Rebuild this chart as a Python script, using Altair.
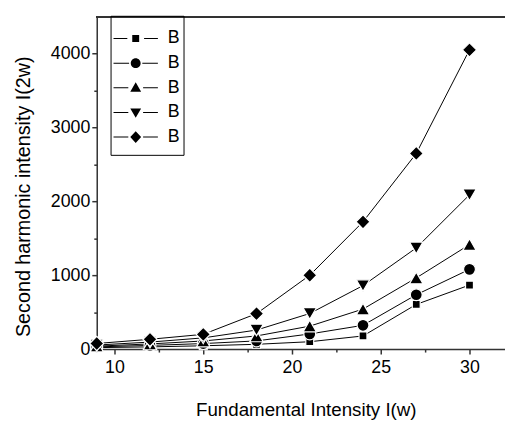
import altair as alt
import pandas as pd

# ---- data ----
x_vals = [9, 12, 15, 18, 21, 24, 27, 30]
s_square = [20, 30, 45, 65, 100, 178, 605, 867]
s_circle = [30, 50, 75, 111, 205, 322, 736, 1080]
s_triup = [40, 70, 110, 178, 311, 542, 964, 1415]
s_tridown = [55, 95, 152, 258, 482, 860, 1370, 2089]
s_diamond = [76, 133, 200, 480, 1000, 1724, 2649, 4053]
series_ids = ["S1", "S2", "S3", "S4", "S5"]
legend_label = "B"
x_ticks = [10, 15, 20, 25, 30]
x_minor = [12.5, 17.5, 22.5, 27.5]
y_ticks = [0, 1000, 2000, 3000, 4000]
y_minor = [500, 1500, 2500, 3500]

values = [s_square, s_circle, s_triup, s_tridown, s_diamond]
rows = []
for sid, vals in zip(series_ids, values):
    for xv, yv in zip(x_vals, vals):
        rows.append({"x": xv, "y": yv, "series": sid})
df = pd.DataFrame(rows)

W, H = 414, 337
FONT = "Liberation Sans"
AX = "#333333"

xscale = alt.Scale(domain=[9, 32], nice=False, zero=False)
yscale = alt.Scale(domain=[0, 4500], nice=False)

base = alt.Chart(df)

main_x = alt.Axis(values=x_ticks, orient="bottom", title="Fundamental Intensity I(w)",
                  grid=False, tickSize=5, tickWidth=1.5, tickColor=AX, domainColor=AX,
                  domainWidth=1.5, labelFont=FONT, labelFontSize=18, labelColor="black",
                  labelPadding=5, titleFont=FONT, titleFontSize=19, titleFontWeight="normal",
                  titleColor="black", titleX=212, titleY=67, titleBaseline="alphabetic",
                  titleAlign="center", labelFlush=False, format="d")
main_y = alt.Axis(values=y_ticks, orient="left", title="Second harmonic intensity  I(2w)",
                  grid=False, tickSize=5, tickWidth=1.5, tickColor=AX, domainColor=AX,
                  domainWidth=1.5, labelFont=FONT, labelFontSize=18, labelColor="black",
                  labelPadding=2, titleFont=FONT, titleFontSize=20, titleFontWeight="normal",
                  titleColor="black", titleX=-68, titleY=182, titleBaseline="alphabetic",
                  titleAlign="center", titleAngle=270, labelFlush=False, format="d")
minor_x = alt.Axis(values=x_minor, orient="bottom", title=None, labels=False, grid=False,
                   tickSize=3, tickWidth=1.5, tickColor=AX, domain=False)
minor_y = alt.Axis(values=y_minor, orient="left", title=None, labels=False, grid=False,
                   tickSize=3, tickWidth=1.5, tickColor=AX, domain=False)

lines = base.mark_line(color="black", strokeWidth=1).encode(
    x=alt.X("x:Q", scale=xscale, axis=main_x),
    y=alt.Y("y:Q", scale=yscale, axis=main_y),
    detail="series:N",
)

minor = base.mark_point(opacity=0).encode(
    x=alt.X("x:Q", scale=xscale, axis=minor_x),
    y=alt.Y("y:Q", scale=yscale, axis=minor_y),
)

shapes = ["square", "circle", "triangle-up", "triangle-down", "diamond"]
sizes = [64, 145, 185, 185, 205]
point_layers = []
for sid, shp, sz in zip(series_ids, shapes, sizes):
    point_layers.append(
        base.transform_filter(alt.datum.series == sid)
        .mark_point(shape=shp, size=sz, filled=True, fill="black", stroke="white",
                    strokeWidth=1.2, opacity=1)
        .encode(x=alt.X("x:Q", scale=xscale, axis=None),
                y=alt.Y("y:Q", scale=yscale, axis=None))
    )


# legend glyphs: "—marker—" drawn as one filled path (units of 10 px, box -1..1)
def glyph(marker_pts, gap, circle_r=None, bottom_ext=None):
    u = 10.0
    c = 12.5
    left0, left1 = -10.0, c - gap
    right0, right1 = c + gap, 35.0
    t = 0.5
    d = (f"M{left0/u:.3f},{-t/u:.3f}L{left1/u:.3f},{-t/u:.3f}L{left1/u:.3f},{t/u:.3f}L{left0/u:.3f},{t/u:.3f}Z"
         f"M{right0/u:.3f},{-t/u:.3f}L{right1/u:.3f},{-t/u:.3f}L{right1/u:.3f},{t/u:.3f}L{right0/u:.3f},{t/u:.3f}Z")
    if circle_r is not None:
        r = circle_r
        d += (f"M{(c + r)/u:.3f},0A{r/u:.3f},{r/u:.3f} 0 1,1 {(c - r)/u:.3f},0"
              f"A{r/u:.3f},{r/u:.3f} 0 1,1 {(c + r)/u:.3f},0Z")
    else:
        pts = [f"{(c + px)/u:.3f},{py/u:.3f}" for px, py in marker_pts]
        d += "M" + "L".join(pts) + "Z"
    if bottom_ext is not None:
        d += f"M{c/u:.3f},{bottom_ext/u:.3f}L{c/u:.3f},{bottom_ext/u:.3f}Z"
    return d


legend_paths = [
    glyph([(-3.5, -3.5), (3.5, -3.5), (3.5, 3.5), (-3.5, 3.5)], 8.5),
    glyph(None, 6.7, circle_r=5.0),
    glyph([(0, -5.5), (5.5, 4.0), (-5.5, 4.0)], 7.5),
    glyph([(0, 5.5), (5.5, -4.0), (-5.5, -4.0)], 7.5),
    glyph([(0, -6.0), (5.5, 0), (0, 6.0), (-5.5, 0)], 7.5, bottom_ext=15),
]

legend_layer = base.transform_filter("false").mark_point(
    filled=True, color="black", opacity=1
).encode(
    x=alt.X("x:Q", scale=xscale, axis=None),
    y=alt.Y("y:Q", scale=yscale, axis=None),
    shape=alt.Shape("series:N", scale=alt.Scale(domain=series_ids, range=legend_paths),
                    legend=alt.Legend(title=" ", titleFontSize=6, titlePadding=4,
                                      orient="none", legendX=14, legendY=-1,
                                      labelExpr="'" + legend_label + "'",
                                      symbolSize=400, symbolFillColor="black",
                                      symbolStrokeWidth=0,
                                      symbolOpacity=1, labelFont=FONT, labelFontSize=18,
                                      labelColor="black", labelOffset=35, rowPadding=6,
                                      strokeColor="black", padding=3, cornerRadius=0)),
)

frame_top = base.mark_rule(color=AX, strokeWidth=1.5).encode(
    x=alt.value(0), x2=alt.value(W), y=alt.value(0)
)

chart = alt.layer(lines, minor, *point_layers, legend_layer, frame_top).resolve_axis(
    x="independent", y="independent"
).resolve_scale(shape="independent").properties(
    width=W, height=H,
    autosize=alt.AutoSizeParams(type="none"),
    padding={"left": 90, "top": 6, "right": 0, "bottom": 70},
).configure_view(stroke=None).configure(background="white")

chart.save("out.html", embed_options={"renderer": "svg", "actions": False})
